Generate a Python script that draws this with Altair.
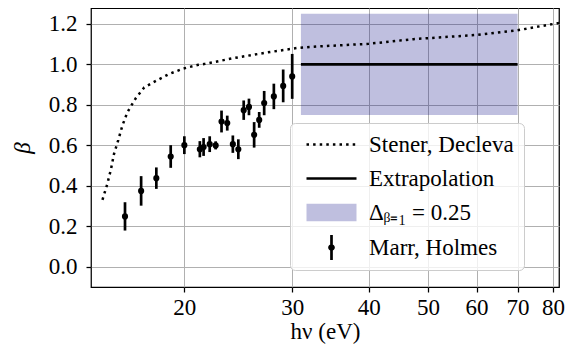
import altair as alt
import pandas as pd

# Marr, Holmes measurements
mh_energy = [16, 17, 18, 19, 20, 21.2, 21.5, 22, 22.5, 23, 23.5, 24, 24.5,
             25, 25.5, 26, 26.5, 27, 28, 29, 30]
mh_beta = [0.249, 0.375, 0.438, 0.545, 0.601, 0.581, 0.592, 0.606, 0.600,
           0.718, 0.710, 0.606, 0.581, 0.774, 0.790, 0.652, 0.726, 0.809,
           0.842, 0.894, 0.941]
mh_err = [0.07, 0.073, 0.053, 0.056, 0.044, 0.04, 0.044, 0.039, 0.02,
          0.054, 0.037, 0.043, 0.049, 0.048, 0.041, 0.063, 0.039, 0.06,
          0.063, 0.081, 0.111]

# Stener, Decleva calculation
sd_energy = [14.7, 14.97, 15.18, 15.35, 15.6, 15.84, 16.14, 16.41, 16.66,
             17.2, 17.98, 18.86, 19.93, 21.08, 21.62, 24.05, 27.27, 30.52,
             33.1, 40.0, 47.3, 60.1, 69.7, 81.8]
sd_beta = [0.331, 0.409, 0.483, 0.557, 0.626, 0.697, 0.763, 0.800, 0.833,
           0.886, 0.919, 0.952, 0.980, 0.998, 1.003, 1.031, 1.059, 1.081,
           1.089, 1.102, 1.125, 1.146, 1.168, 1.205]

# Extrapolation and its uncertainty band
ext_energy = [31, 70]
ext_beta = [1.0, 1.0]
band_delta = 0.25

x_ticks = [20, 30, 40, 50, 60, 70, 80]
y_ticks = [0.0, 0.2, 0.4, 0.6, 0.8, 1.0, 1.2]

legend_labels = ["Stener, Decleva", "Extrapolation", "Δᵦ₌₁ = 0.25", "Marr, Holmes"]
legend_colors = ["#000000", "#000000", "#bfbfdf", "#000000"]

FONT = "Liberation Serif"
FS = 23

mh = pd.DataFrame({"e": mh_energy, "b": mh_beta, "err": mh_err})
sd = pd.DataFrame({"e": sd_energy, "b": sd_beta})
ext = pd.DataFrame({"e": ext_energy, "b": ext_beta})
band = pd.DataFrame({"e1": [ext_energy[0]], "e2": [ext_energy[1]],
                     "lo": [ext_beta[0] - band_delta], "hi": [ext_beta[0] + band_delta]})

xscale = alt.Scale(type="log", domain=[14.08, 81.8], nice=False)
yscale = alt.Scale(domain=[-0.1, 1.279], nice=False, zero=False)
xaxis = alt.Axis(values=x_ticks, format="d", labelPadding=4, titlePadding=1,
                 labelFlush=False)
yaxis = alt.Axis(values=y_ticks, format=".1f", labelPadding=9, titlePadding=14,
                 titleFontStyle="italic")
XT = "hν (eV)"
YT = "β"

def X(f):
    return alt.X(f, type="quantitative", scale=xscale, axis=xaxis, title=XT)

def Y(f):
    return alt.Y(f, type="quantitative", scale=yscale, axis=yaxis, title=YT)

band_layer = alt.Chart(band).mark_rect(color="#000080", opacity=0.25).encode(
    x=X("e1"), x2="e2", y=Y("lo"), y2="hi")

ext_layer = alt.Chart(ext).mark_line(color="black", strokeWidth=2.7).encode(
    x=X("e"), y=Y("b"))

sd_layer = alt.Chart(sd).mark_line(color="black", strokeWidth=2.5,
                                   strokeDash=[2.5, 4.1], strokeCap="butt",
                                   clip=True).encode(x=X("e"), y=Y("b"))

err_layer = alt.Chart(mh).transform_calculate(
    lo="datum.b - datum.err", hi="datum.b + datum.err"
).mark_rule(color="black", strokeWidth=2.7).encode(
    x=X("e"), y=Y("lo:Q"), y2="hi:Q")

pt_layer = alt.Chart(mh).mark_circle(color="black", size=38, opacity=1).encode(
    x=X("e"), y=Y("b"))

# legend symbols (unit = 5 px)
dots = " ".join(f"M{x0:.2f},-0.25h0.5v0.5h-0.5Z" for x0 in [-1 + 1.32 * k for k in range(8)])
solid = "M-1,-0.27H9V0.27H-1Z"
patch = "M-1,-1.73H9V1.73H-1Z"
errsym = ("M3.73,-2.5H4.27V2.5H3.73Z "
          "M3.33,0A0.67,0.67 0 1,1 4.67,0A0.67,0.67 0 1,1 3.33,0Z")
legend_shapes = [dots, solid, patch, errsym]

leg = alt.Legend(title=None, orient="none", legendX=199, legendY=115,
                 labelFont=FONT, labelFontSize=FS, labelColor="black",
                 fillColor="rgba(255,255,255,0.8)", strokeColor="#cccccc",
                 cornerRadius=5, padding=10, rowPadding=10, labelOffset=46,
                 symbolSize=100, symbolStrokeWidth=0, symbolOpacity=1,
                 labelLimit=400)

leg_df = pd.DataFrame({"series": legend_labels, "e": [1.0] * 4, "b": [0.5] * 4})
leg_layer = alt.Chart(leg_df).mark_point(filled=True, clip=True, size=100, opacity=1).encode(
    x=X("e"), y=Y("b"),
    color=alt.Color("series:N", scale=alt.Scale(domain=legend_labels, range=legend_colors), legend=leg),
    shape=alt.Shape("series:N", scale=alt.Scale(domain=legend_labels, range=legend_shapes), legend=leg),
)

chart = alt.layer(band_layer, ext_layer, sd_layer, err_layer, pt_layer, leg_layer).properties(
    width=468, height=279,
    autosize=alt.AutoSizeParams(type="none"),
    padding={"left": 83, "top": 0, "right": 10, "bottom": 68},
).configure_axis(
    labelFont=FONT, labelFontSize=FS, labelColor="black",
    titleFont=FONT, titleFontSize=FS, titleColor="black",
    titleFontWeight="normal", tickColor="black", tickSize=5, tickWidth=1.25,
    gridColor="#b0b0b0", gridWidth=1, domain=False,
).configure_view(stroke="black", strokeWidth=1.25)

chart.save("out.html", embed_options={"renderer": "svg", "actions": False})
